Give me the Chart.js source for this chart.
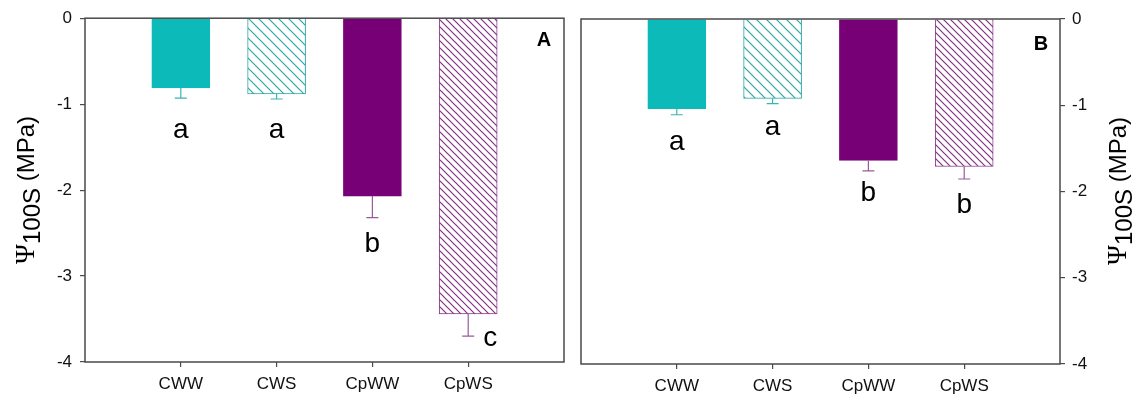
<!DOCTYPE html>
<html>
<head>
<meta charset="utf-8">
<script src="https://cdn.jsdelivr.net/npm/chart.js@4.4.1/dist/chart.umd.min.js"></script>
<style>
  html, body { margin: 0; padding: 0; background: #fff; }
  #wrap { position: relative; width: 1134px; height: 400px; overflow: hidden; }
  .panel { position: absolute; top: 0; height: 400px; }
  #panelA { left: 0; width: 571px; }
  #panelB { left: 567px; width: 567px; }
</style>
</head>
<body>
<div id="wrap">
  <div class="panel" id="panelA"><canvas id="chartA"></canvas></div>
  <div class="panel" id="panelB"><canvas id="chartB"></canvas></div>
</div>
<script>
// Treatments
const categories = ['CWW', 'CWS', 'CpWW', 'CpWS'];

// Panel A: mean Ψ100S (MPa) and standard error
const meansA = [-0.81, -0.88, -2.07, -3.44];
const errorsA = [0.12, 0.06, 0.25, 0.26];
const lettersA = ['a', 'a', 'b', 'c'];

// Panel B: mean Ψ100S (MPa) and standard error
const meansB = [-1.04, -0.92, -1.64, -1.71];
const errorsB = [0.07, 0.06, 0.12, 0.145];
const lettersB = ['a', 'a', 'b', 'b'];

// Y axis ticks
const yTicks = [0, -1, -2, -3, -4];

const SANS = '"Liberation Sans", Arial, Helvetica, sans-serif';
const SERIF = '"Liberation Serif", "DejaVu Serif", serif';
const TEAL = '#0cbaba';
const PURPLE = '#770077';
const TEAL_LINE = '#2aa8a4';
const PURPLE_LINE = '#863086';
const FRAME = '#4a4a4a';

function hatch(color, size) {
  const c = document.createElement('canvas');
  c.width = size; c.height = size;
  const g = c.getContext('2d');
  g.fillStyle = '#ffffff';
  g.fillRect(0, 0, size, size);
  g.strokeStyle = color;
  g.lineWidth = 1.2;
  g.beginPath();
  g.moveTo(-1, -1); g.lineTo(size + 1, size + 1);
  g.moveTo(-1, size - 1); g.lineTo(1, size + 1);
  g.moveTo(size - 1, -1); g.lineTo(size + 1, 1);
  g.stroke();
  return g.createPattern(c, 'repeat');
}

// Frame, error bars, significance letters, panel tag and axis title
const decorations = {
  id: 'decorations',
  afterDatasetsDraw(chart, args, opts) {
    const ctx = chart.ctx;
    const area = chart.chartArea;
    const yScale = chart.scales.y;
    const meta = chart.getDatasetMeta(0);
    ctx.save();

    // error bars (downward only)
    opts.means.forEach((m, i) => {
      const bar = meta.data[i + 1];
      const x = bar.x;
      const y0 = yScale.getPixelForValue(m);
      const y1 = yScale.getPixelForValue(m - opts.errors[i]);
      ctx.strokeStyle = opts.errColors[i];
      ctx.lineWidth = 1.2;
      ctx.beginPath();
      ctx.moveTo(x, y0); ctx.lineTo(x, y1);
      ctx.moveTo(x - 6, y1); ctx.lineTo(x + 6, y1);
      ctx.stroke();

      // significance letter
      const off = opts.letterOffsets[i];
      ctx.fillStyle = '#000';
      ctx.font = '28px ' + SANS;
      ctx.textAlign = 'center';
      ctx.textBaseline = 'middle';
      ctx.fillText(opts.letters[i], x + off[0], y1 + off[1]);
    });

    // frame
    ctx.strokeStyle = FRAME;
    ctx.lineWidth = 1.5;
    ctx.strokeRect(area.left, area.top, area.right - area.left, area.bottom - area.top);

    // panel tag
    ctx.fillStyle = '#000';
    ctx.font = 'bold 20px ' + SANS;
    ctx.textAlign = 'center';
    ctx.textBaseline = 'middle';
    ctx.fillText(opts.tag, opts.tagPos[0], opts.tagPos[1]);

    // axis title Ψ100S (MPa), read bottom to top
    const parts = [
      { t: 'Ψ', f: '27px ' + SERIF, dy: 0 },
      { t: '100S', f: '24px ' + SANS, dy: 6 },
      { t: ' (MPa)', f: '24px ' + SANS, dy: 0 }
    ];
    let total = 0;
    parts.forEach(p => { ctx.font = p.f; p.w = ctx.measureText(p.t).width; total += p.w; });
    ctx.translate(opts.titlePos[0], opts.titlePos[1]);
    ctx.rotate(-Math.PI / 2);
    ctx.textAlign = 'left';
    ctx.textBaseline = 'middle';
    let cx = -total / 2;
    parts.forEach(p => {
      ctx.font = p.f;
      ctx.fillText(p.t, cx, p.dy);
      cx += p.w;
    });
    ctx.restore();
  }
};

function buildPanel(canvasId, cfg) {
  const labels = [''].concat(categories, ['']);
  const data = [null].concat(cfg.means, [null]);
  const teal = hatch(TEAL_LINE, 10);
  const purple = hatch(PURPLE_LINE, 7);
  const fills = [null, TEAL, teal, PURPLE, purple, null];
  const edges = [null, TEAL, TEAL_LINE, PURPLE, '#8a3a8a', null];
  const hideEdgeTick = ctx => (ctx.index === 0 || ctx.index === labels.length - 1) ? 'rgba(0,0,0,0)' : FRAME;

  return new Chart(document.getElementById(canvasId), {
    type: 'bar',
    data: {
      labels: labels,
      datasets: [{
        data: data,
        backgroundColor: fills,
        borderColor: edges,
        borderWidth: 1,
        borderSkipped: 'start',
        barThickness: 58
      }]
    },
    options: {
      responsive: true,
      maintainAspectRatio: false,
      animation: false,
      layout: { padding: cfg.padding },
      plugins: {
        legend: { display: false },
        tooltip: { enabled: false },
        decorations: {
          means: cfg.means,
          errors: cfg.errors,
          letters: cfg.letters,
          letterOffsets: cfg.letterOffsets,
          errColors: ['#3ab4b4', '#3ab4b4', '#9a5a9a', '#9a5a9a'],
          tag: cfg.tag,
          tagPos: cfg.tagPos,
          titlePos: cfg.titlePos
        }
      },
      scales: {
        x: {
          type: 'category',
          offset: false,
          afterFit: s => { s.height = cfg.xHeight; },
          grid: { offset: false, drawOnChartArea: false, drawTicks: true, tickLength: 5, color: hideEdgeTick, lineWidth: 1.2 },
          border: { display: false },
          ticks: { font: { family: SANS, size: 17 }, color: '#111', padding: 7, maxRotation: 0, autoSkip: false }
        },
        y: {
          position: cfg.yPosition,
          min: -4,
          max: 0,
          afterBuildTicks: s => { s.ticks = yTicks.map(v => ({ value: v })); },
          afterFit: s => { s.width = cfg.yWidth; },
          grid: { drawOnChartArea: false, drawTicks: true, tickLength: 5, color: FRAME, lineWidth: 1.2 },
          border: { display: false },
          ticks: { font: { family: SANS, size: 17 }, color: '#111', padding: cfg.yPad }
        }
      }
    },
    plugins: [decorations]
  });
}

buildPanel('chartA', {
  means: meansA, errors: errorsA, letters: lettersA,
  letterOffsets: [[0, 32], [0, 31], [0, 27], [22, 2]],
  padding: { left: 0, right: 3, top: 16, bottom: 0 },
  yPosition: 'left', yWidth: 85, yPad: 8, xHeight: 38,
  tag: 'A', tagPos: [544, 40], titlePos: [27, 190]
});

buildPanel('chartB', {
  means: meansB, errors: errorsB, letters: lettersB,
  letterOffsets: [[0, 28], [0, 24], [0, 22], [0, 26]],
  padding: { left: 14, right: 0, top: 19, bottom: 0 },
  yPosition: 'right', yWidth: 74, yPad: 7, xHeight: 36,
  tag: 'B', tagPos: [474, 44], titlePos: [552, 191]
});
</script>
</body>
</html>
